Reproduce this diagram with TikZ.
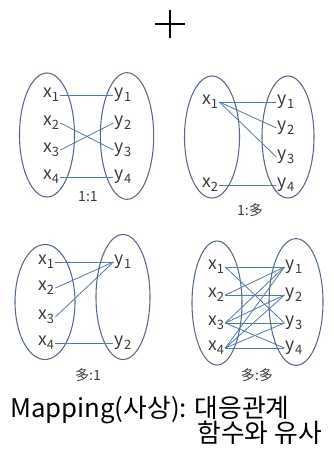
\documentclass[tikz,border=0pt]{standalone}
\usepackage{fontspec}
\setmainfont{Noto Sans CJK KR}
\usepackage{tikz}
\usetikzlibrary{shapes.geometric}
\definecolor{setline}{HTML}{56698A}
\definecolor{mapline}{HTML}{557BAA}
\definecolor{ink}{HTML}{3A3A3A}
\newcommand{\lowidx}[1]{\raisebox{-0.4ex}{\fontsize{11}{11}\selectfont #1}}
\tikzset{
  set/.style={draw=setline, line width=0.9pt, ellipse, inner sep=0pt},
  elem/.style={text=ink, font=\fontsize{15}{15}\selectfont, inner sep=1pt},
  ratio/.style={text=ink, font=\fontsize{12}{12}\selectfont, inner sep=1pt},
  map/.style={draw=mapline, line width=0.7pt},
  caption/.style={text=black, font=\fontsize{22}{24}\selectfont, inner sep=0pt}
}
\begin{document}
\begin{tikzpicture}[x=0.3mm, y=-0.3mm]
  \useasboundingbox (0,0) rectangle (333,469);

  % plus sign
  \coordinate (plusL) at (155,24);
  \coordinate (plusR) at (185,24);
  \coordinate (plusT) at (170,10);
  \coordinate (plusB) at (170,38);
  \draw[line width=1.5pt] (plusL) -- (plusR);
  \draw[line width=1.5pt] (plusT) -- (plusB);

  % 1:1
  \node[set, minimum width=16.5mm, minimum height=37.2mm] (oneA) at (47,135) {};
  \node[set, minimum width=16mm, minimum height=38mm] (oneB) at (127,136) {};
  \foreach \i/\y in {1/95, 2/123, 3/150, 4/177} {
    \node[elem] (onex\i) at (51,\y) {x\lowidx{\i}};
    \node[elem] (oney\i) at (123,\y) {y\lowidx{\i}};
  }
  \node[ratio] (oneR) at (88,197) {1:1};
  \draw[map] (onex1.east) -- (oney1.west);
  \draw[map] (onex2.east) -- (oney3.west);
  \draw[map] (onex3.east) -- (oney2.west);
  \draw[map] (onex4.east) -- (oney4.west);

  % 1:many
  \node[set, minimum width=16.5mm, minimum height=36.6mm] (manyA) at (212,137) {};
  \node[set, minimum width=15.6mm, minimum height=36.6mm] (manyB) at (288,137) {};
  \node[elem] (manyx1) at (210,102) {x\lowidx{1}};
  \node[elem] (manyx2) at (210,185) {x\lowidx{2}};
  \foreach \i/\y in {1/102, 2/128, 3/157, 4/185}
    \node[elem] (manyy\i) at (286,\y) {y\lowidx{\i}};
  \node[ratio] (manyR) at (250,210) {1:多};
  \draw[map] (manyx1.east) -- (manyy1.west);
  \draw[map] (manyx1.east) -- (manyy2.west);
  \draw[map] (manyx1.east) -- (manyy3.west);
  \draw[map] (manyx2.east) -- (manyy4.west);

  % many:1
  \node[set, minimum width=18mm, minimum height=34.5mm] (ontoA) at (45,302) {};
  \node[set, minimum width=16.2mm, minimum height=37.5mm] (ontoB) at (123,297) {};
  \foreach \i/\y in {1/262, 2/288, 3/317, 4/343}
    \node[elem] (ontox\i) at (46,\y) {x\lowidx{\i}};
  \node[elem] (ontoy1) at (123,262) {y\lowidx{1}};
  \node[elem] (ontoy2) at (123,343) {y\lowidx{2}};
  \node[ratio] (ontoR) at (88,375) {多:1};
  \draw[map] (ontox1.east) -- (ontoy1.west);
  \draw[map] (ontox2.east) -- (ontoy1.west);
  \draw[map] (ontox3.east) -- (ontoy1.west);
  \draw[map] (ontox4.east) -- (ontoy2.west);

  % many:many
  \node[set, minimum width=15mm, minimum height=37.2mm] (allA) at (217,303) {};
  \node[set, minimum width=16.2mm, minimum height=38mm] (allB) at (296,302) {};
  \foreach \i/\y in {1/267, 2/295, 3/323, 4/348} {
    \node[elem] (allx\i) at (216,\y) {x\lowidx{\i}};
    \node[elem] (ally\i) at (294,\y) {y\lowidx{\i}};
  }
  \node[ratio] (allR) at (257,375) {多:多};
  \foreach \a/\b in {1/1, 1/3, 2/1, 2/2, 3/1, 3/2, 3/3, 3/4, 4/1, 4/2, 4/3, 4/4}
    \draw[map] (allx\a.east) -- (ally\b.west);

  % caption
  \node[caption, anchor=west] (capA) at (10,410) {Mapping(사상): 대응관계};
  \node[caption, anchor=east] (capB) at (322,433) {함수와 유사};
\end{tikzpicture}
\end{document}
